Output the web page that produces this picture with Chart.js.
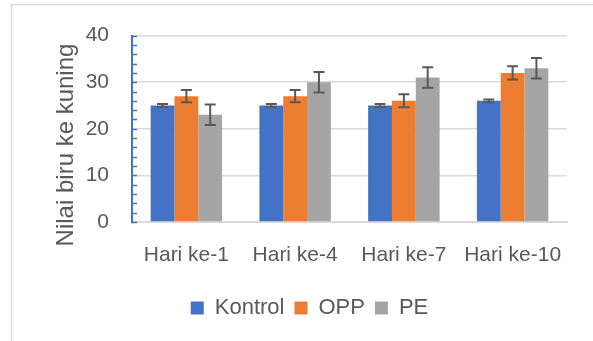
<!DOCTYPE html>
<html>
<head>
<meta charset="utf-8">
<script src="https://cdn.jsdelivr.net/npm/chart.js@4"></script>
<style>
  html, body { margin: 0; padding: 0; background: #fff; }
  #wrap { position: relative; width: 593px; height: 341px; }
</style>
</head>
<body>
<div id="wrap"><canvas id="chart" width="593" height="341"></canvas></div>
<script>
// data
const categories = ['Hari ke-1', 'Hari ke-4', 'Hari ke-7', 'Hari ke-10'];
const kontrol = [25, 25, 25, 26];
const kontrolErr = [0.3, 0.3, 0.3, 0.3];
const opp = [27, 27, 26, 32];
const oppErr = [1.3, 1.3, 1.4, 1.4];
const pe = [23, 30, 31, 33];
const peErr = [2.2, 2.2, 2.2, 2.2];
const yTicks = [0, 10, 20, 30, 40];

const textColor = '#595959';
const fontName = "'Liberation Sans', Arial, sans-serif";

// frame round the chart
const framePlugin = {
  id: 'frame',
  beforeDraw(chart) {
    const ctx = chart.ctx;
    ctx.save();
    ctx.fillStyle = '#fff';
    ctx.fillRect(0, 0, chart.width, chart.height);
    ctx.strokeStyle = '#d9d9d9';
    ctx.lineWidth = 1.5;
    ctx.beginPath();
    ctx.moveTo(11.5, chart.height);
    ctx.lineTo(11.5, 4.5);
    ctx.lineTo(chart.width, 4.5);
    ctx.stroke();
    ctx.restore();
  },
};

// small tick marks on the y axis, every 2 units
const minorTicksPlugin = {
  id: 'minorTicks',
  afterDraw(chart) {
    const y = chart.scales.y;
    const ctx = chart.ctx;
    ctx.save();
    ctx.strokeStyle = '#4472C4';
    ctx.lineWidth = 1.5;
    ctx.beginPath();
    for (let v = y.min; v <= y.max; v += 2) {
      const py = Math.round(y.getPixelForValue(v)) + 0.5;
      ctx.moveTo(y.right - 1, py);
      ctx.lineTo(y.right + 5, py);
    }
    ctx.stroke();
    ctx.restore();
  },
};

// error bars
const errorBarsPlugin = {
  id: 'errorBars',
  afterDatasetsDraw(chart) {
    const ctx = chart.ctx;
    const y = chart.scales.y;
    ctx.save();
    ctx.strokeStyle = '#595959';
    ctx.lineWidth = 2;
    chart.data.datasets.forEach((ds, i) => {
      const meta = chart.getDatasetMeta(i);
      meta.data.forEach((bar, j) => {
        const v = ds.data[j];
        const e = ds.errors[j];
        const yTop = y.getPixelForValue(v + e);
        const yBot = y.getPixelForValue(v - e);
        const cap = 5.5;
        ctx.beginPath();
        ctx.moveTo(bar.x, yTop);
        ctx.lineTo(bar.x, yBot);
        ctx.moveTo(bar.x - cap, yTop);
        ctx.lineTo(bar.x + cap, yTop);
        ctx.moveTo(bar.x - cap, yBot);
        ctx.lineTo(bar.x + cap, yBot);
        ctx.stroke();
      });
    });
    ctx.restore();
  },
};

// y axis title, placed as in the picture
const yTitlePlugin = {
  id: 'yTitle',
  afterDraw(chart) {
    const ctx = chart.ctx;
    ctx.save();
    ctx.translate(66, 145);
    ctx.rotate(-Math.PI / 2);
    ctx.fillStyle = textColor;
    ctx.font = '24px ' + fontName;
    ctx.textAlign = 'center';
    ctx.textBaseline = 'middle';
    ctx.fillText('Nilai biru ke kuning', 0, 0);
    ctx.restore();
  },
};

const ctx = document.getElementById('chart').getContext('2d');
new Chart(ctx, {
  type: 'bar',
  data: {
    labels: categories,
    datasets: [
      { label: 'Kontrol', data: kontrol, errors: kontrolErr, backgroundColor: '#4472C4' },
      { label: 'OPP', data: opp, errors: oppErr, backgroundColor: '#ED7D31' },
      { label: 'PE', data: pe, errors: peErr, backgroundColor: '#A5A5A5' },
    ],
  },
  options: {
    responsive: false,
    animation: false,
    devicePixelRatio: 1,
    layout: {
      padding: { left: 52, right: 26, top: 34, bottom: 12 },
    },
    datasets: {
      bar: { categoryPercentage: 0.657, barPercentage: 1, borderWidth: 0 },
    },
    plugins: {
      tooltip: { enabled: false },
      legend: {
        position: 'bottom',
        labels: {
          boxWidth: 13,
          boxHeight: 13,
          padding: 10,
          color: textColor,
          font: { family: fontName, size: 22 },
        },
      },
    },
    scales: {
      x: {
        grid: { display: false, drawTicks: false },
        border: { color: '#d9d9d9', width: 2 },
        ticks: {
          color: textColor,
          padding: 21,
          maxRotation: 0,
          font: { family: fontName, size: 21 },
        },
        afterFit: (scale) => { scale.height = 65; },
      },
      y: {
        min: 0,
        max: 40,
        grid: {
          drawTicks: false,
          color: (c) => (c.tick && c.tick.value === 0 ? 'rgba(0,0,0,0)' : '#d9d9d9'),
          lineWidth: 1.5,
        },
        border: { color: '#4472C4', width: 2 },
        afterBuildTicks: (scale) => { scale.ticks = yTicks.map((v) => ({ value: v })); },
        ticks: {
          color: textColor,
          padding: 23,
          font: { family: fontName, size: 21 },
        },
        afterFit: (scale) => { scale.width = 80; },
      },
    },
  },
  plugins: [framePlugin, errorBarsPlugin, minorTicksPlugin, yTitlePlugin],
});
</script>
</body>
</html>
